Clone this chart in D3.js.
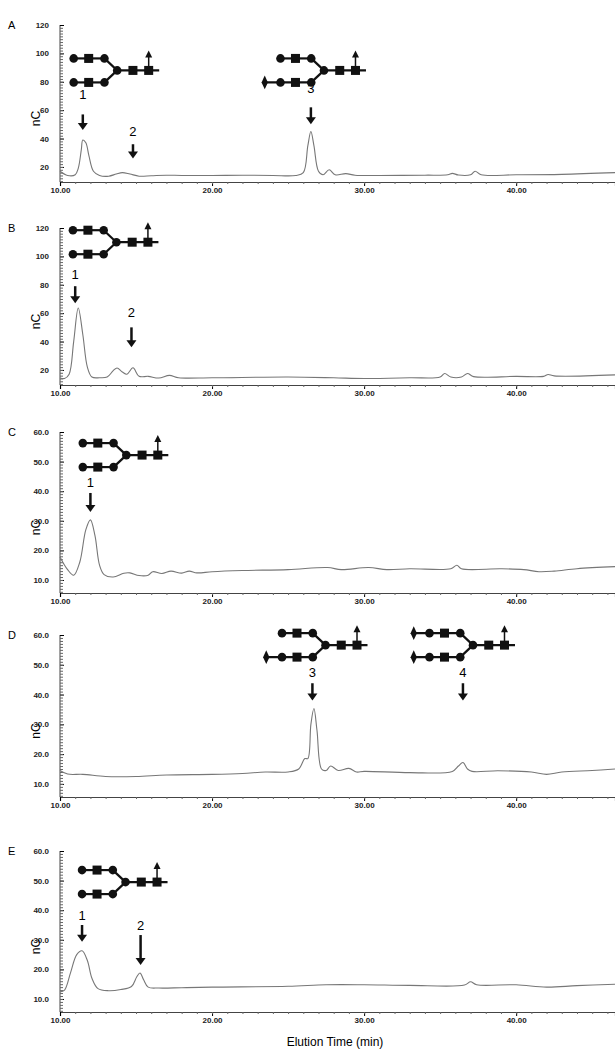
<!DOCTYPE html>
<html>
<head>
<meta charset="utf-8">
<script src="https://cdn.jsdelivr.net/npm/d3@7"></script>
<style>
body { margin: 0; background: #fff; }
text { font-family: "Liberation Sans", Arial, sans-serif; }
</style>
</head>
<body>
<svg id="chart" width="615" height="1050"></svg>
<script>
// traces: [time (min), nC]
const traceA = [[10,17],[10.5,14],[11,14.5],[11.2,19],[11.4,32],[11.5,39],[11.7,37],[11.9,28],[12.2,17],[12.6,14],[13.2,13.5],[13.7,15],[14.1,16],[14.6,15],[15.2,13.5],[16,13.8],[17,14.2],[18,14],[20,14],[22,14.2],[24,14],[25.5,14],[26,16],[26.3,35],[26.5,45],[26.7,35],[27,17],[27.3,14.5],[27.7,18],[28.1,14.5],[28.8,15.3],[29.4,14.2],[31,14],[34,14.2],[35.5,14.5],[35.8,15.5],[36.2,14.3],[37,14.5],[37.3,17],[37.7,14.5],[40,14.5],[43,14.8],[46.5,16]];
const traceB = [[10,14.4],[10.3,14],[10.6,17],[10.9,40],[11.2,63.6],[11.5,45],[11.8,22],[12.1,15],[12.6,14.5],[13.1,15],[13.5,19.5],[13.75,21.4],[14.1,18.5],[14.4,17],[14.8,21.5],[15.2,15.5],[15.8,15.5],[16.5,14.3],[17.2,16.2],[17.8,14.5],[20,14.5],[25,15],[28,14.5],[30,14],[33,14.5],[35,15],[35.3,17.5],[35.7,15],[36.4,15],[36.8,17.5],[37.2,15.3],[40,15.5],[41.8,15.5],[42.1,16.8],[42.5,15.8],[46.5,16.5]];
const traceC = [[10,17.8],[10.5,13.5],[10.9,11.6],[11.3,16],[11.7,27],[12,30.3],[12.3,25],[12.6,15],[12.9,11.8],[13.5,11],[14.2,12.3],[14.6,12.4],[15.2,11.5],[15.8,11.6],[16.1,12.8],[16.7,12.2],[17.3,13],[18,12.3],[18.5,13],[19,12.4],[20,12.8],[22,13.2],[25,13.5],[27.6,14.2],[28.5,13.5],[30.3,14.2],[31.5,13.5],[33,13.8],[35.7,13.8],[36.1,15],[36.4,13.8],[39,13.8],[40.5,13.5],[41.5,12.8],[42.5,13],[44,13.8],[46.5,14.5]];
const traceD = [[10,14.5],[10.5,13.3],[11.5,13.2],[13,12.5],[15,12.5],[17,13],[20,13.2],[22,13.5],[23.5,14],[25,14],[25.7,15],[26.1,18.5],[26.3,18.5],[26.5,30],[26.7,35.3],[26.9,28],[27.2,15],[27.5,14.5],[27.8,16],[28.3,14.5],[29,15.2],[29.5,14],[30,14.2],[33,13.8],[35.8,14.2],[36.2,16],[36.5,17.2],[36.8,15],[37.1,14.2],[38.8,14.4],[41,14],[42,13.2],[43,14],[45,14.5],[46.5,15]];
const traceE = [[10,12.4],[10.3,13],[10.7,19],[11.1,25],[11.45,26.3],[11.8,23],[12.1,17],[12.5,13.5],[13.2,12.8],[14,13.2],[14.7,14.2],[15.05,17.5],[15.26,18.8],[15.5,16.5],[15.8,14],[16.5,13.7],[18,13.8],[20,14],[25,14.3],[27.5,14.8],[30,14.8],[33,14.6],[36.6,14.7],[37,15.8],[37.4,14.8],[40,14.8],[42,14],[44,14.5],[46.5,15]];

const ticksHigh = [20, 40, 60, 80, 100, 120];
const ticksLow = [10, 20, 30, 40, 50, 60];
const xTicks = [10, 20, 30, 40];

// arrows: [time, label, labelValue, topValue, tipValue]
const arrowsA = [[11.5,'1',68,57,46],[14.8,'2',42,36,26],[26.5,'3',72,62,50]];
const arrowsB = [[11.0,'1',84,79,67],[14.7,'2',57,50,36]];
const arrowsC = [[12.0,'1',41.4,39.4,33]];
const arrowsD = [[26.6,'3',45.8,43.8,38],[36.5,'4',45.8,43.8,38]];
const arrowsE = [[11.45,'1',36.7,35,29.3],[15.3,'2',33.3,31.6,21.5]];

// glycans: [time, value, sialic acids (0 none, 1 lower arm, 2 both)]
const glycansA = [[10.9,88,0],[24.5,88,1]];
const glycansB = [[10.85,110,0]];
const glycansC = [[11.5,52.2,0]];
const glycansD = [[24.6,56.6,1],[34.3,56.6,2]];
const glycansE = [[11.45,49.5,0]];

const panels = [
  {name:'A', trace:traceA, lo:9.4, hi:120, bottom:182, top:25, ticks:ticksHigh, minor:4, fmt:d3.format('d'), arrows:arrowsA, glycans:glycansA},
  {name:'B', trace:traceB, lo:9.4, hi:120, bottom:385, top:228, ticks:ticksHigh, minor:4, fmt:d3.format('d'), arrows:arrowsB, glycans:glycansB},
  {name:'C', trace:traceC, lo:5.6, hi:60, bottom:593, top:432, ticks:ticksLow, minor:2, fmt:d3.format('.1f'), arrows:arrowsC, glycans:glycansC},
  {name:'D', trace:traceD, lo:5.6, hi:60, bottom:797, top:635, ticks:ticksLow, minor:2, fmt:d3.format('.1f'), arrows:arrowsD, glycans:glycansD},
  {name:'E', trace:traceE, lo:5.6, hi:60, bottom:1012, top:851, ticks:ticksLow, minor:2, fmt:d3.format('.1f'), arrows:arrowsE, glycans:glycansE}
];

const svg = d3.select('#chart');
const x = d3.scaleLinear().domain([10, 46.5]).range([60, 615]);

function drawGlycan(g, px, py, sia) {
  const u = 15, dy = 12, r = 4.3, s = 9;
  const ink = '#111';
  const xs = {gal:0, gn:1.0*u, man:2.05*u, core:2.9*u, gn1:3.95*u, gn2:5.0*u, end:5.7*u};
  const gg = g.append('g').attr('transform', `translate(${px},${py})`);
  const line = (x1,y1,x2,y2,w) => gg.append('line').attr('x1',x1).attr('y1',y1).attr('x2',x2).attr('y2',y2).attr('stroke',ink).attr('stroke-width',w);
  [-dy, dy].forEach((ay, i) => {
    const hasSia = (sia === 2) || (sia === 1 && i === 1);
    const start = hasSia ? -1.05*u : 0;
    line(start, ay, xs.man, ay, 2.2);
    line(xs.man, ay, xs.core, 0, 2.2);
    if (hasSia) gg.append('path').attr('d', d3.symbol(d3.symbolDiamond, 55)()).attr('transform', `translate(${-1.05*u},${ay}) scale(0.8,1)`).attr('fill', ink);
    gg.append('circle').attr('cx', xs.gal).attr('cy', ay).attr('r', r).attr('fill', ink);
    gg.append('rect').attr('x', xs.gn - s/2).attr('y', ay - s/2).attr('width', s).attr('height', s).attr('fill', ink);
    gg.append('circle').attr('cx', xs.man).attr('cy', ay).attr('r', r).attr('fill', ink);
  });
  line(xs.core, 0, xs.end, 0, 2.2);
  gg.append('circle').attr('cx', xs.core).attr('cy', 0).attr('r', r).attr('fill', ink);
  [xs.gn1, xs.gn2].forEach(cx => gg.append('rect').attr('x', cx - s/2).attr('y', -s/2).attr('width', s).attr('height', s).attr('fill', ink));
  line(xs.gn2, 0, xs.gn2, -15, 1.5);
  gg.append('path').attr('d', `M${xs.gn2-3.5},-13L${xs.gn2},-20L${xs.gn2+3.5},-13Z`).attr('fill', ink);
}

panels.forEach(p => {
  const y = d3.scaleLinear().domain([p.lo, p.hi]).range([p.bottom, p.top]);
  const g = svg.append('g');

  g.append('text').attr('x', 8).attr('y', p.top + 4).attr('font-size', 11).text(p.name);

  // x axis
  const xa = d3.axisBottom(x).tickValues(xTicks).tickFormat(d3.format('.2f')).tickSize(4);
  const xg = g.append('g').attr('transform', `translate(0,${p.bottom})`).call(xa);
  xg.select('.domain').attr('stroke', '#444').attr('stroke-width', 1.2);
  xg.selectAll('text').attr('font-size', 8).attr('font-weight', 'bold').attr('fill', '#222').attr('dy', '0.5em');
  const xm = d3.axisBottom(x).tickValues(d3.range(11, 47, 1)).tickFormat('').tickSize(2);
  g.append('g').attr('transform', `translate(0,${p.bottom})`).call(xm).call(s => s.select('.domain').remove()).selectAll('line').attr('stroke', '#666');

  // y axis
  const ya = d3.axisLeft(y).tickValues(p.ticks).tickFormat(p.fmt).tickSize(8).tickPadding(3);
  const yg = g.append('g').attr('transform', `translate(60,0)`).call(ya);
  yg.selectAll('.tick line').attr('x2', 4);
  yg.select('.domain').attr('d', `M0,${p.bottom}V${p.top}`).attr('stroke', '#444');
  yg.selectAll('text').attr('font-size', 8).attr('font-weight', 'bold').attr('fill', '#222');
  const ym = d3.axisLeft(y).tickValues(d3.range(Math.ceil(p.lo), p.hi, p.minor / 2).filter(v => v % p.minor !== 0 || true)).tickFormat('').tickSize(3);
  g.append('g').attr('transform', 'translate(60,0)').call(ym).call(s => s.select('.domain').remove()).selectAll('line').attr('x2', 3).attr('stroke', '#666');

  g.append('text').attr('transform', `translate(40,${(p.top + p.bottom) / 2 + 15}) rotate(-90)`)
    .attr('text-anchor', 'middle').attr('font-size', 12).text('nC');

  // trace
  const line = d3.line().x(d => x(d[0])).y(d => y(d[1])).curve(d3.curveCatmullRom.alpha(0.5));
  g.append('path').datum(p.trace).attr('d', line).attr('fill', 'none').attr('stroke', '#777').attr('stroke-width', 1.1);

  // arrows
  p.arrows.forEach(a => {
    const ax = x(a[0]);
    g.append('text').attr('x', ax).attr('y', y(a[2])).attr('text-anchor', 'middle').attr('font-size', 13).text(a[1]);
    g.append('line').attr('x1', ax).attr('x2', ax).attr('y1', y(a[3])).attr('y2', y(a[4]) - 6).attr('stroke', '#111').attr('stroke-width', 2.5);
    g.append('path').attr('d', `M${ax-5},${y(a[4])-7}L${ax},${y(a[4])}L${ax+5},${y(a[4])-7}Z`).attr('fill', '#111');
  });

  p.glycans.forEach(gl => drawGlycan(g, x(gl[0]), y(gl[1]), gl[2]));
});

svg.append('text').attr('x', 335).attr('y', 1046).attr('text-anchor', 'middle').attr('font-size', 12).text('Elution Time (min)');
</script>
</body>
</html>
